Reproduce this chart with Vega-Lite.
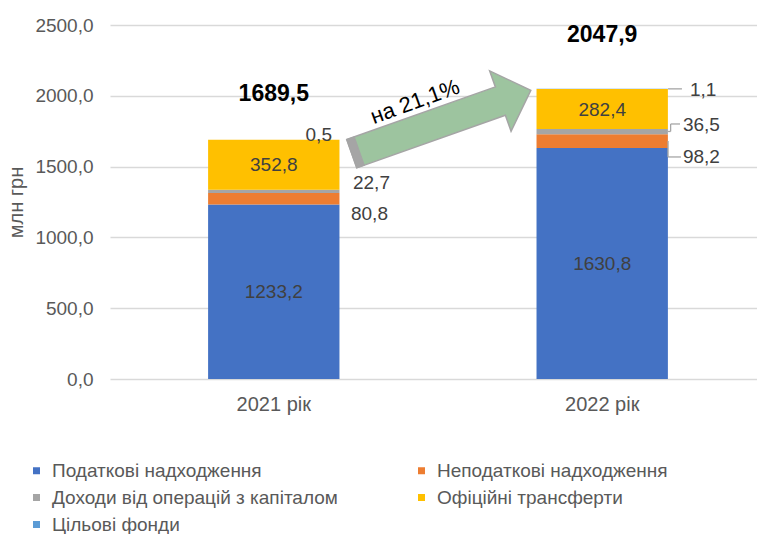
{
  "$schema": "https://vega.github.io/schema/vega-lite/v6.json",
  "width": 647,
  "height": 354,
  "autosize": {"type": "none"},
  "padding": {"left": 110, "top": 25, "right": 0, "bottom": 155},
  "config": {
    "font": "Liberation Sans",
    "view": {"stroke": null},
    "locale": {"number": {"decimal": ",", "thousands": " ", "grouping": [3], "currency": ["", ""]}}
  },
  "datasets": {
    "parts": [
      {"year": "2021 рік", "category": "Податкові надходження", "order": 1, "value": 1233.2},
      {"year": "2021 рік", "category": "Неподаткові надходження", "order": 2, "value": 80.8},
      {"year": "2021 рік", "category": "Доходи від операцій з капіталом", "order": 3, "value": 22.7},
      {"year": "2021 рік", "category": "Офіційні трансферти", "order": 4, "value": 352.8},
      {"year": "2021 рік", "category": "Цільові фонди", "order": 5, "value": 0.5},
      {"year": "2022 рік", "category": "Податкові надходження", "order": 1, "value": 1630.8},
      {"year": "2022 рік", "category": "Неподаткові надходження", "order": 2, "value": 98.2},
      {"year": "2022 рік", "category": "Доходи від операцій з капіталом", "order": 3, "value": 36.5},
      {"year": "2022 рік", "category": "Офіційні трансферти", "order": 4, "value": 282.4},
      {"year": "2022 рік", "category": "Цільові фонди", "order": 5, "value": 1.1}
    ],
    "totals": [
      {"year": "2021 рік", "total": 1689.5},
      {"year": "2022 рік", "total": 2047.9}
    ],
    "leaders": [
      {"x": 1.725, "x2": 1.768, "y": 2049, "y2": 2049},
      {"x": 1.725, "x2": 1.733, "y": 1748, "y2": 1748},
      {"x": 1.733, "x2": 1.733, "y": 1748, "y2": 1801},
      {"x": 1.733, "x2": 1.762, "y": 1801, "y2": 1801},
      {"x": 1.725, "x2": 1.725, "y": 1681, "y2": 1568},
      {"x": 1.725, "x2": 1.765, "y": 1568, "y2": 1568}
    ]
  },
  "resolve": {"scale": {"x": "independent"}},
  "layer": [
    {
      "layer": [
        {
          "data": {"name": "parts"},
          "transform": [
            {"stack": "value", "groupby": ["year"], "sort": [{"field": "order", "order": "ascending"}], "as": ["y0", "y1"]}
          ],
          "layer": [
            {
              "mark": {"type": "bar"},
              "encoding": {
                "x": {
                  "field": "year", "type": "nominal", "title": null,
                  "scale": {"paddingInner": 0.6, "paddingOuter": 0.285, "align": 0.524},
                  "axis": {"labelAngle": 0, "labelFontSize": 20, "labelColor": "#595959", "ticks": false, "tickSize": 0, "domain": false, "labelPadding": 15, "grid": false}
                },
                "y": {
                  "field": "y0", "type": "quantitative", "title": "млн грн",
                  "scale": {"domain": [0, 2500], "nice": false},
                  "axis": {
                    "values": [0, 500, 1000, 1500, 2000, 2500], "format": ".1f",
                    "labelFontSize": 19, "labelColor": "#595959", "ticks": false, "tickSize": 0, "domain": false,
                    "labelPadding": 17, "gridColor": "#d9d9d9", "gridWidth": 1.5,
                    "titleFontSize": 20, "titleFontWeight": "normal", "titleColor": "#595959", "titlePadding": 8
                  }
                },
                "y2": {"field": "y1"},
                "color": {
                  "field": "category", "type": "nominal",
                  "scale": {
                    "domain": ["Податкові надходження", "Неподаткові надходження", "Доходи від операцій з капіталом", "Офіційні трансферти", "Цільові фонди"],
                    "range": ["#4472C4", "#ED7D31", "#A5A5A5", "#FFC000", "#5B9BD5"]
                  },
                  "legend": {
                    "orient": "none", "legendX": -83, "legendY": 436, "direction": "horizontal", "columns": 2, "columnPadding": 74, "rowPadding": 7,
                    "symbolType": "square", "symbolSize": 49, "symbolStrokeWidth": 0, "labelFontSize": 19, "labelColor": "#595959",
                    "labelOffset": 6, "labelLimit": 500, "title": null
                  }
                }
              }
            },
            {
              "transform": [{"filter": "datum.year == '2021 рік' && datum.order == 1"}],
              "mark": {"type": "text", "fontSize": 19, "color": "#404040", "baseline": "middle", "dy": 88},
              "encoding": {
                "x": {"field": "year", "type": "nominal"},
                "y": {"field": "y1", "type": "quantitative"},
                "text": {"field": "value", "type": "quantitative", "format": ".1f"}
              }
            },
            {
              "transform": [{"filter": "datum.year == '2021 рік' && datum.order == 4"}],
              "mark": {"type": "text", "fontSize": 19, "color": "#404040", "baseline": "middle", "dy": 25},
              "encoding": {
                "x": {"field": "year", "type": "nominal"},
                "y": {"field": "y1", "type": "quantitative"},
                "text": {"field": "value", "type": "quantitative", "format": ".1f"}
              }
            },
            {
              "transform": [{"filter": "datum.year == '2022 рік' && datum.order == 1"}],
              "mark": {"type": "text", "fontSize": 19, "color": "#404040", "baseline": "middle", "dy": 116},
              "encoding": {
                "x": {"field": "year", "type": "nominal"},
                "y": {"field": "y1", "type": "quantitative"},
                "text": {"field": "value", "type": "quantitative", "format": ".1f"}
              }
            },
            {
              "transform": [{"filter": "datum.year == '2022 рік' && datum.order == 4"}],
              "mark": {"type": "text", "fontSize": 19, "color": "#404040", "baseline": "middle", "dy": 21},
              "encoding": {
                "x": {"field": "year", "type": "nominal"},
                "y": {"field": "y1", "type": "quantitative"},
                "text": {"field": "value", "type": "quantitative", "format": ".1f"}
              }
            },
            {
              "transform": [{"filter": "datum.year == '2021 рік' && datum.order == 5"}],
              "mark": {"type": "text", "fontSize": 19, "color": "#404040", "baseline": "middle", "align": "right", "dx": -7.5, "dy": -5},
              "encoding": {
                "x": {"field": "year", "type": "nominal", "bandPosition": 1},
                "y": {"field": "y1", "type": "quantitative"},
                "text": {"field": "value", "type": "quantitative", "format": ".1f"}
              }
            },
            {
              "transform": [{"filter": "datum.year == '2021 рік' && datum.order == 3"}],
              "mark": {"type": "text", "fontSize": 19, "color": "#404040", "baseline": "middle", "align": "left", "dx": 13.5, "dy": -7},
              "encoding": {
                "x": {"field": "year", "type": "nominal", "bandPosition": 1},
                "y": {"field": "y1", "type": "quantitative"},
                "text": {"field": "value", "type": "quantitative", "format": ".1f"}
              }
            },
            {
              "transform": [{"filter": "datum.year == '2021 рік' && datum.order == 2"}],
              "mark": {"type": "text", "fontSize": 19, "color": "#404040", "baseline": "middle", "align": "left", "dx": 11.5, "dy": 21},
              "encoding": {
                "x": {"field": "year", "type": "nominal", "bandPosition": 1},
                "y": {"field": "y1", "type": "quantitative"},
                "text": {"field": "value", "type": "quantitative", "format": ".1f"}
              }
            },
            {
              "transform": [{"filter": "datum.year == '2022 рік' && datum.order == 5"}],
              "mark": {"type": "text", "fontSize": 19, "color": "#404040", "baseline": "middle", "align": "left", "dx": 22, "dy": 1},
              "encoding": {
                "x": {"field": "year", "type": "nominal", "bandPosition": 1},
                "y": {"field": "y1", "type": "quantitative"},
                "text": {"field": "value", "type": "quantitative", "format": ".1f"}
              }
            },
            {
              "transform": [{"filter": "datum.year == '2022 рік' && datum.order == 3"}],
              "mark": {"type": "text", "fontSize": 19, "color": "#404040", "baseline": "middle", "align": "left", "dx": 15, "dy": -4},
              "encoding": {
                "x": {"field": "year", "type": "nominal", "bandPosition": 1},
                "y": {"field": "y1", "type": "quantitative"},
                "text": {"field": "value", "type": "quantitative", "format": ".1f"}
              }
            },
            {
              "transform": [{"filter": "datum.year == '2022 рік' && datum.order == 2"}],
              "mark": {"type": "text", "fontSize": 19, "color": "#404040", "baseline": "middle", "align": "left", "dx": 15, "dy": 23},
              "encoding": {
                "x": {"field": "year", "type": "nominal", "bandPosition": 1},
                "y": {"field": "y1", "type": "quantitative"},
                "text": {"field": "value", "type": "quantitative", "format": ".1f"}
              }
            }
          ]
        },
        {
          "data": {"name": "totals"},
          "layer": [
            {
              "transform": [{"filter": "datum.year == '2021 рік'"}],
              "mark": {"type": "text", "fontSize": 23, "fontWeight": "bold", "color": "#000000", "baseline": "middle", "dy": -46},
              "encoding": {
                "x": {"field": "year", "type": "nominal"},
                "y": {"field": "total", "type": "quantitative"},
                "text": {"field": "total", "type": "quantitative", "format": ".1f"}
              }
            },
            {
              "transform": [{"filter": "datum.year == '2022 рік'"}],
              "mark": {"type": "text", "fontSize": 23, "fontWeight": "bold", "color": "#000000", "baseline": "middle", "dy": -54},
              "encoding": {
                "x": {"field": "year", "type": "nominal"},
                "y": {"field": "total", "type": "quantitative"},
                "text": {"field": "total", "type": "quantitative", "format": ".1f"}
              }
            }
          ]
        }
      ]
    },
    {
      "layer": [
        {
          "data": {"values": [{}]},
          "mark": {
            "type": "point",
            "shape": "M -1 -0.158 L 0.66 -0.158 L 0.66 -0.337 L 1 0 L 0.66 0.337 L 0.66 0.158 L -1 0.158 Z",
            "size": 36100, "angle": -19.5, "filled": true, "fill": "#9dc49f", "stroke": "#a5a5a5", "strokeWidth": 1.5,
            "opacity": 1, "fillOpacity": 1, "strokeOpacity": 1
          },
          "encoding": {
            "x": {"datum": 1.024, "type": "quantitative", "scale": {"domain": [0, 2], "nice": false, "zero": false}, "axis": null},
            "y": {"datum": 1815, "type": "quantitative", "scale": {"domain": [0, 2500], "nice": false}}
          }
        },
        {
          "data": {"values": [{}]},
          "mark": {
            "type": "point",
            "shape": "M -1 -0.158 L -0.915 -0.158 L -0.915 0.158 L -1 0.158 Z",
            "size": 36100, "angle": -19.5, "filled": true, "fill": "#a5a5a5", "stroke": "#a5a5a5", "strokeWidth": 1,
            "opacity": 1, "fillOpacity": 1
          },
          "encoding": {
            "x": {"datum": 1.024, "type": "quantitative"},
            "y": {"datum": 1815, "type": "quantitative"}
          }
        },
        {
          "data": {"values": [{}]},
          "mark": {"type": "text", "text": "на 21,1%", "angle": -20, "fontSize": 22, "color": "#000000", "baseline": "middle", "align": "center"},
          "encoding": {
            "x": {"datum": 0.943, "type": "quantitative"},
            "y": {"datum": 1958, "type": "quantitative"}
          }
        },
        {
          "data": {"name": "leaders"},
          "mark": {"type": "rule", "color": "#a6a6a6", "strokeWidth": 1.3},
          "encoding": {
            "x": {"field": "x", "type": "quantitative"},
            "x2": {"field": "x2"},
            "y": {"field": "y", "type": "quantitative"},
            "y2": {"field": "y2"}
          }
        }
      ]
    }
  ]
}
